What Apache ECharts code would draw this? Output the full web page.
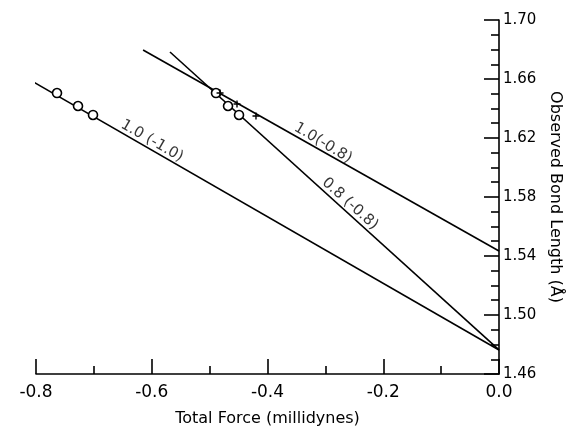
<!DOCTYPE html>
<html>
<head>
<meta charset="utf-8">
<title>Observed Bond Length vs Total Force</title>
<script src="https://cdn.jsdelivr.net/npm/echarts@6/dist/echarts.min.js"></script>
<style>
    html, body { margin: 0; padding: 0; background: #fff; overflow: hidden; }
    #bondChart { width: 568px; height: 429px; }
</style>
</head>
<body>
<div id="bondChart"></div>
<script>
/**
 * 数据
 */
// 三条直线的端点 [force, length]
var lineA = [[-0.831, 1.664], [0.0, 1.4763]];   // 1.0 (-1.0)
var lineB = [[-0.615, 1.6797], [0.0, 1.5434]];  // 1.0(-0.8)
var lineC = [[-0.5685, 1.6783], [0.0, 1.4763]]; // 0.8 (-0.8)

// 圆圈点
var circleAForce = [-0.7637, -0.7274, -0.7015];
var circleCForce = [-0.489, -0.4682, -0.4492];
var circleLength = [1.6505, 1.6417, 1.6356];

// 十字点 (在 1.0(-0.8) 线上)
var plusForce = [-0.482, -0.4527, -0.4199];
var plusLength = [1.6505, 1.6431, 1.6349];

// 线的标注
var lineNames = ['1.0 (-1.0)', '1.0(-0.8)', '0.8 (-0.8)'];
var nameForce = [-0.5996, -0.3041, -0.2575];
var nameLength = [1.618, 1.6166, 1.5753];
var nameAngle = [-30, -31, -42];

function pairs(xs, ys) {
    var out = [];
    for (var i = 0; i < xs.length; i++) {
        out.push([xs[i], ys[i]]);
    }
    return out;
}

var labelData = [];
for (var i = 0; i < lineNames.length; i++) {
    labelData.push({
        name: lineNames[i],
        value: [nameForce[i], nameLength[i]],
        label: { rotate: nameAngle[i] }
    });
}

var font = 'DejaVu Sans';
var lineStyle = { color: '#000', width: 1.6 };

/**
 * 创建图表
 */
var myChart = echarts.init(document.getElementById('bondChart'));
var option = {
    backgroundColor: '#fff',
    animation: false,
    grid: { left: 36, right: 69, top: 20, bottom: 55, outerBoundsMode: 'none', containLabel: false },
    xAxis: {
        type: 'value',
        min: -0.8,
        max: 0,
        interval: 0.2,
        name: 'Total Force (millidynes)',
        nameLocation: 'middle',
        nameGap: 37,
        nameTextStyle: { fontFamily: font, fontSize: 16, color: '#000' },
        axisLine: { show: true, lineStyle: { color: '#000', width: 1.6 } },
        axisTick: { inside: true, length: 15, lineStyle: { color: '#000', width: 1.6 } },
        minorTick: { show: true, splitNumber: 2, length: 8, lineStyle: { color: '#000', width: 1.6 } },
        splitLine: { show: false },
        axisLabel: {
            fontFamily: font, fontSize: 17, color: '#000', margin: 10,
            formatter: function (v) {
                if (Math.abs(v) < 1e-9) return '0.0';
                return v.toFixed(1);
            }
        }
    },
    yAxis: {
        type: 'value',
        position: 'right',
        min: 1.46,
        max: 1.70,
        interval: 0.04,
        name: 'Observed Bond Length (Å)',
        nameLocation: 'middle',
        nameRotate: -90,
        nameGap: 45,
        nameTextStyle: { fontFamily: font, fontSize: 16, color: '#000' },
        axisLine: { show: true, lineStyle: { color: '#000', width: 1.6 } },
        axisTick: { inside: true, length: 15, lineStyle: { color: '#000', width: 1.6 } },
        minorTick: { show: true, splitNumber: 4, length: 8, lineStyle: { color: '#000', width: 1.6 } },
        splitLine: { show: false },
        axisLabel: {
            fontFamily: font, fontSize: 15, color: '#000', margin: 4,
            formatter: function (v) { return v.toFixed(2); }
        }
    },
    series: [
        { type: 'line', data: lineA, symbol: 'none', clip: false, lineStyle: lineStyle },
        { type: 'line', data: lineB, symbol: 'none', clip: false, lineStyle: lineStyle },
        { type: 'line', data: lineC, symbol: 'none', clip: false, lineStyle: lineStyle },
        {
            type: 'scatter',
            data: pairs(circleAForce, circleLength).concat(pairs(circleCForce, circleLength)),
            symbol: 'circle',
            symbolSize: 9,
            itemStyle: { color: '#fff', borderColor: '#000', borderWidth: 1.6, opacity: 1 },
            z: 5
        },
        {
            type: 'scatter',
            data: pairs(plusForce, plusLength),
            symbol: 'path://M4,0H6V4H10V6H6V10H4V6H0V4H4Z',
            symbolSize: 7,
            itemStyle: { color: '#000', opacity: 1 },
            z: 5
        },
        {
            type: 'scatter',
            data: labelData,
            symbolSize: 0,
            label: {
                show: true,
                position: 'inside',
                formatter: '{b}',
                fontFamily: font,
                fontSize: 15,
                color: '#000'
            },
            z: 6
        }
    ]
};
myChart.setOption(option);
</script>
</body>
</html>
